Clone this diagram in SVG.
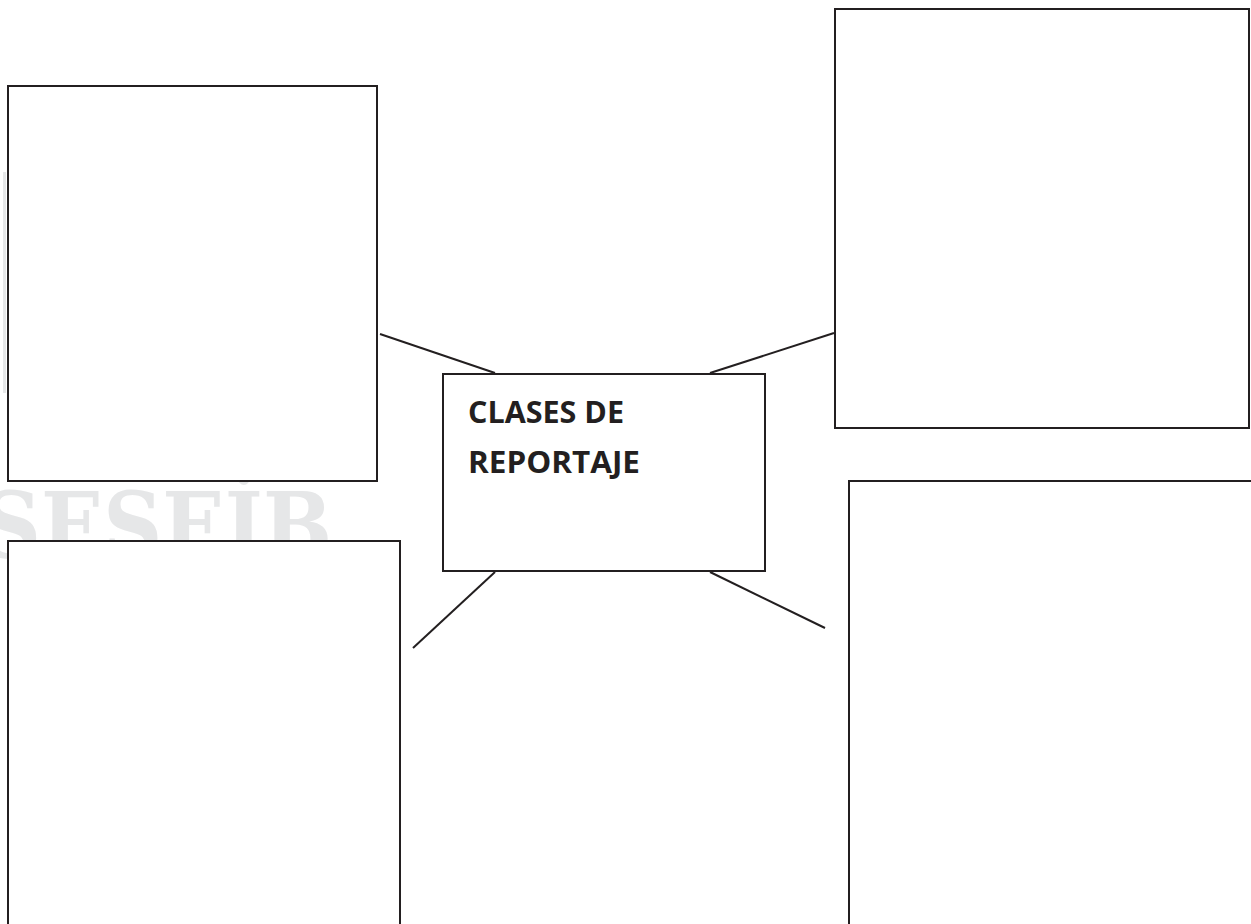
<svg xmlns="http://www.w3.org/2000/svg" width="1251" height="924" viewBox="0 0 1251 924">
<style>
.box{fill:#fff;stroke:#231f20;stroke-width:2}
.con{stroke:#231f20;stroke-width:2;fill:none}
.wm{fill:#e6e7e8;font-family:"DejaVu Serif","Liberation Serif",serif;font-weight:bold}
.lbl{fill:#231f20;font-family:"Open Sans","Liberation Sans",sans-serif;font-weight:bold;font-size:30px}
</style>
<rect width="1251" height="924" fill="#fff"/>
<g id="watermark">
<rect x="3" y="172" width="3" height="221" fill="#e6e7e8"/>
<text class="wm" x="-18" y="558" font-size="92" textLength="350" lengthAdjust="spacingAndGlyphs">SESEİB</text>
</g>
<g id="connectors">
<line class="con" x1="380" y1="334" x2="495" y2="373"/>
<line class="con" x1="710" y1="373" x2="834" y2="333"/>
<line class="con" x1="495" y1="572" x2="413" y2="648"/>
<line class="con" x1="710" y1="572" x2="825" y2="628"/>
</g>
<g id="box-top-left"><rect class="box" x="8" y="86" width="369" height="395"/></g>
<g id="box-bottom-left"><rect class="box" x="8" y="541" width="392" height="400"/></g>
<g id="box-top-right"><rect class="box" x="835" y="9" width="414" height="419"/></g>
<g id="box-bottom-right"><rect class="box" x="849" y="481" width="410" height="460"/></g>
<g id="center">
<rect class="box" x="443" y="374" width="322" height="197"/>
<text class="lbl" x="468" y="423" textLength="156" lengthAdjust="spacingAndGlyphs">CLASES DE</text>
<text class="lbl" x="468" y="473" textLength="172" lengthAdjust="spacingAndGlyphs">REPORTAJE</text>
</g>
</svg>
